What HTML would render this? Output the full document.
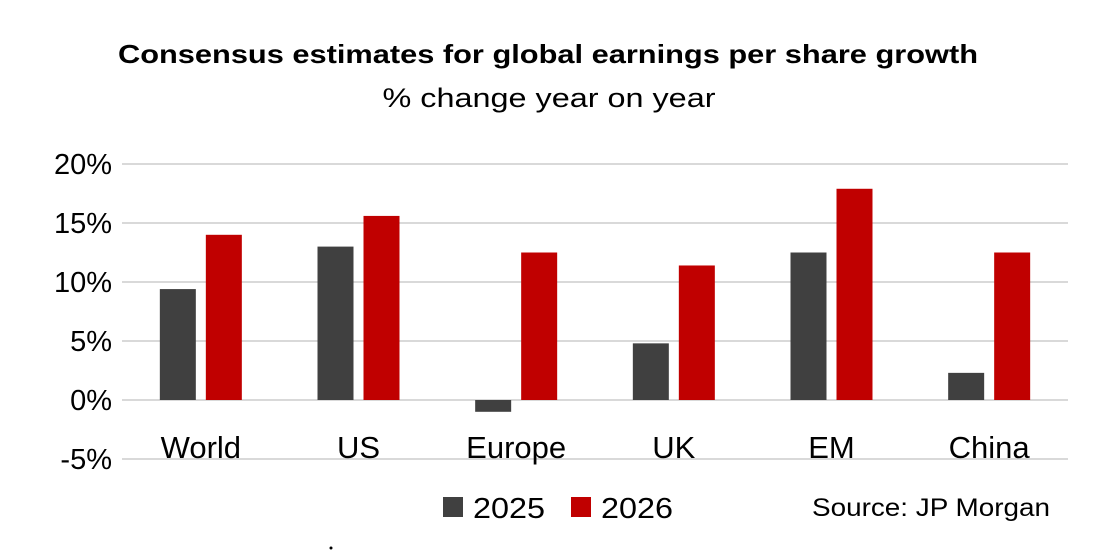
<!DOCTYPE html>
<html><head><meta charset="utf-8"><style>
html,body{margin:0;padding:0;background:#fff;}
svg{display:block;font-family:"Liberation Sans",Arial,sans-serif;}
</style></head><body>
<svg id="chart" width="1112" height="554" viewBox="0 0 1112 554">
<text x="548" y="63" text-anchor="middle" font-size="26" font-weight="bold" fill="#000" textLength="860" lengthAdjust="spacingAndGlyphs">Consensus estimates for global earnings per share growth</text>
<text x="549" y="107" text-anchor="middle" font-size="27" fill="#000" textLength="333" lengthAdjust="spacingAndGlyphs">% change year on year</text>
<g id="grid"></g><g id="bars"></g><g id="labels"></g>
<g>
<rect x="443" y="497" width="20" height="20" fill="#404040"/>
<text x="473" y="518" font-size="29" fill="#000" textLength="72" lengthAdjust="spacingAndGlyphs">2025</text>
<rect x="571" y="497" width="20" height="20" fill="#c00000"/>
<text x="601" y="518" font-size="29" fill="#000" textLength="72" lengthAdjust="spacingAndGlyphs">2026</text>
</g>
<text x="812" y="516" font-size="25" fill="#000" textLength="238" lengthAdjust="spacingAndGlyphs">Source: JP Morgan</text>
<circle cx="331" cy="548" r="1.5" fill="#000"/>
</svg>
<script>
const categories=["World","US","Europe","UK","EM","China"];
const values2025=[9.4,13.0,-1.0,4.8,12.5,2.3];
const values2026=[14.0,15.6,12.5,11.4,17.9,12.5];
const ticks=[20,15,10,5,0,-5];
const ns="http://www.w3.org/2000/svg";
const x0=122,x1=1068,yZero=400,pxPer=11.8;
const y=v=>yZero-v*pxPer;
const bw=(x1-x0)/categories.length;
function mk(tag,attrs,parent){const e=document.createElementNS(ns,tag);for(const k in attrs)e.setAttribute(k,attrs[k]);document.getElementById(parent).appendChild(e);return e;}
ticks.forEach(t=>{
 const l=mk("line",{x1:x0,x2:x1,y1:y(t),y2:y(t),stroke:"#d9d9d9","stroke-width":2},"grid");
 
 
 const tx=mk("text",{x:112,y:y(t)+10,"text-anchor":"end","font-size":"29",fill:"#000"},"labels");
 tx.textContent=t+"%";
 
 
});
categories.forEach((c,i)=>{
 const cx=x0+bw*(i+0.5);
 [[values2025[i],"#404040",cx-41],[values2026[i],"#c00000",cx+5]].forEach(([v,col,bx],j)=>{
  const r=mk("rect",{x:bx,y:Math.min(y(v),yZero),width:36,height:Math.abs(v*pxPer),fill:col},"bars");
  
  
 });
 const t=mk("text",{x:cx,y:458,"text-anchor":"middle","font-size":"31",fill:"#000"},"labels");
 t.textContent=c;
 
 
});
</script>
</body></html>
